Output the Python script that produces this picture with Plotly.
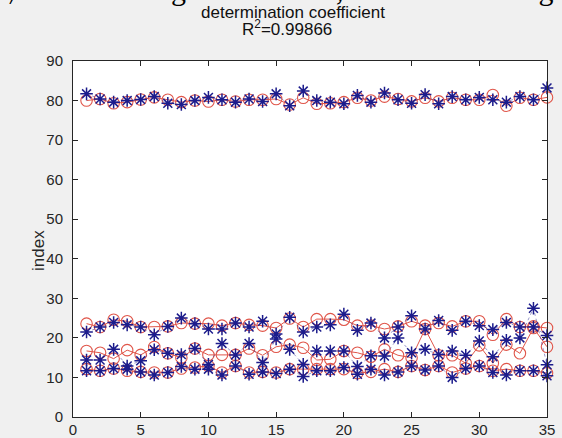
import plotly.graph_objects as go

# sample index
idx = list(range(1, 36))

# group A (around 80)
a_true = [81.7, 80.4, 79.6, 80.0, 80.25, 81.0, 79.3, 79.0, 80.0, 80.8,
          80.2, 79.6, 80.4, 79.75, 81.7, 78.7, 82.4, 80.0, 79.6, 79.2,
          81.3, 79.6, 81.9, 80.2, 79.3, 81.5, 79.2, 81.0, 80.2, 80.8,
          80.2, 79.6, 81.0, 80.2, 83.2]
a_pred = [80.0, 80.4, 79.3, 79.6, 80.25, 80.8, 80.2, 79.6, 80.0, 79.75,
          80.2, 79.75, 80.2, 80.2, 80.4, 79.0, 80.7, 79.2, 79.3, 79.6,
          80.7, 80.0, 81.0, 80.4, 79.8, 80.7, 79.8, 80.7, 80.2, 80.2,
          81.4, 78.7, 80.7, 80.2, 80.8]

# group B (around 23)
b_true = [21.5, 22.75, 23.9, 23.3, 22.75, 20.8, 22.9, 25.0, 23.6, 22.25,
          22.25, 23.75, 22.75, 24.2, 21.0, 25.2, 21.5, 22.75, 23.3, 26.0,
          21.9, 23.75, 20.0, 22.75, 25.6, 22.25, 24.4, 21.9, 24.2, 23.1,
          22.1, 23.9, 22.75, 22.75, 20.6]
b_pred = [23.6, 22.75, 24.6, 24.2, 22.75, 22.75, 22.9, 23.75, 23.6, 23.6,
          23.1, 23.75, 23.3, 23.1, 22.5, 24.9, 22.75, 24.75, 24.75, 24.6,
          23.1, 23.1, 22.25, 22.9, 24.2, 23.1, 23.75, 22.9, 24.2, 24.2,
          20.8, 24.75, 22.75, 22.9, 22.5]

# group C (around 16)
c_true = [14.4, 14.4, 17.1, 12.9, 14.2, 17.0, 16.1, 15.8, 17.3, 13.3,
          18.6, 15.7, 18.6, 13.75, 19.75, 17.1, 13.3, 16.7, 16.7, 16.7,
          12.75, 15.5, 15.4, 20.0, 16.25, 17.1, 15.8, 16.7, 15.6, 19.2,
          15.25, 19.4, 20.0, 27.5, 13.2]
c_pred = [16.7, 16.25, 14.75, 16.9, 15.7, 17.7, 16.1, 15.0, 17.3, 15.7,
          15.7, 15.7, 17.3, 15.6, 17.75, 18.3, 17.5, 14.4, 14.6, 16.7,
          16.25, 15.25, 17.1, 15.6, 15.0, 22.25, 15.6, 15.6, 13.6, 18.1,
          13.6, 18.3, 16.1, 22.5, 17.75]

# group D (around 12)
d_true = [11.7, 11.7, 12.25, 12.1, 11.4, 10.6, 11.25, 12.75, 12.1, 12.1,
          10.6, 12.9, 10.8, 11.4, 11.0, 12.1, 10.25, 11.7, 11.7, 12.5,
          10.8, 12.1, 10.6, 11.4, 12.9, 11.9, 12.9, 10.0, 12.25, 12.9,
          11.25, 10.6, 11.7, 11.7, 10.4]
d_pred = [12.1, 11.7, 12.25, 11.7, 11.4, 11.25, 11.25, 12.25, 12.5, 12.9,
          11.25, 12.9, 11.25, 11.4, 11.25, 12.1, 12.1, 12.1, 12.1, 12.1,
          11.1, 11.4, 12.1, 11.4, 12.9, 11.9, 12.9, 11.25, 12.25, 12.9,
          11.7, 12.1, 11.7, 11.7, 11.1]

x_ticks = [0, 5, 10, 15, 20, 25, 30, 35]
y_ticks = [0, 10, 20, 30, 40, 50, 60, 70, 80, 90]

title_line1 = "determination coefficient"
title_line2 = "R<sup>2</sup>=0.99866"
y_label = "index"
page_text = "\uff0c start training the network,\u201d as shown in Fig"

RED = "#e0564a"
BLUE = "#1c1c8c"
AXIS = "#262626"
SANS = "Liberation Sans, Arial, sans-serif"

fig = go.Figure()

for yp in (a_pred, b_pred, c_pred, d_pred):
    fig.add_trace(go.Scatter(
        x=idx, y=yp, mode="lines+markers", cliponaxis=False,
        line=dict(color=RED, width=1),
        marker=dict(symbol="circle-open", size=11.5, color=RED,
                    line=dict(width=1.1, color=RED)),
        showlegend=False))

for yt in (a_true, b_true, c_true, d_true):
    fig.add_trace(go.Scatter(
        x=idx, y=yt, mode="lines+markers", cliponaxis=False,
        line=dict(color="rgba(28,28,140,0.45)", width=1, dash="dot"),
        marker=dict(symbol="asterisk-open", size=10.5, color=BLUE,
                    line=dict(width=1.5, color=BLUE)),
        showlegend=False))

# plot area: x 73..547 px, y 61..417 px in a 562x438 page
L, R, T, B = 73, 15, 61, 21
W, H = 562, 438
pw, ph = W - L - R, H - T - B


def px(p):
    return (p - L) / pw


def py(p):
    return (H - B - p) / ph


axis_common = dict(
    showline=True, linecolor=AXIS, linewidth=1, mirror="ticks",
    ticks="inside", ticklen=5, tickcolor=AXIS, tickwidth=1,
    showgrid=False, zeroline=False, automargin=False,
    tickfont=dict(family=SANS, size=15, color=AXIS),
)

fig.update_layout(
    width=W, height=H,
    margin=dict(l=L, r=R, t=T, b=B, autoexpand=False),
    paper_bgcolor="#f0f0f0",
    plot_bgcolor="white",
    xaxis=dict(range=[0, 35], tickvals=x_ticks, ticklabelstandoff=-1, **axis_common),
    yaxis=dict(range=[0, 90], tickvals=y_ticks, ticklabelstandoff=6, **axis_common),
    annotations=[
        dict(text=title_line1, xref="paper", yref="paper", x=px(293), y=py(13),
             xanchor="center", yanchor="middle", showarrow=False,
             font=dict(family=SANS, size=17, color="#111111")),
        dict(text=title_line2, xref="paper", yref="paper", x=px(287), y=py(28),
             xanchor="center", yanchor="middle", showarrow=False,
             font=dict(family=SANS, size=17, color="#111111")),
        dict(text=y_label, xref="paper", yref="paper", x=px(38), y=py(251),
             xanchor="center", yanchor="middle", showarrow=False, textangle=-90,
             font=dict(family=SANS, size=17, color=AXIS)),
        dict(text=page_text, xref="paper", yref="paper", x=px(-6), y=py(8),
             xanchor="left", yanchor="bottom", showarrow=False,
             font=dict(family="Liberation Serif, Times New Roman, serif", size=30,
                       color="#000000")),
    ],
)

fig.write_html("out.html")
